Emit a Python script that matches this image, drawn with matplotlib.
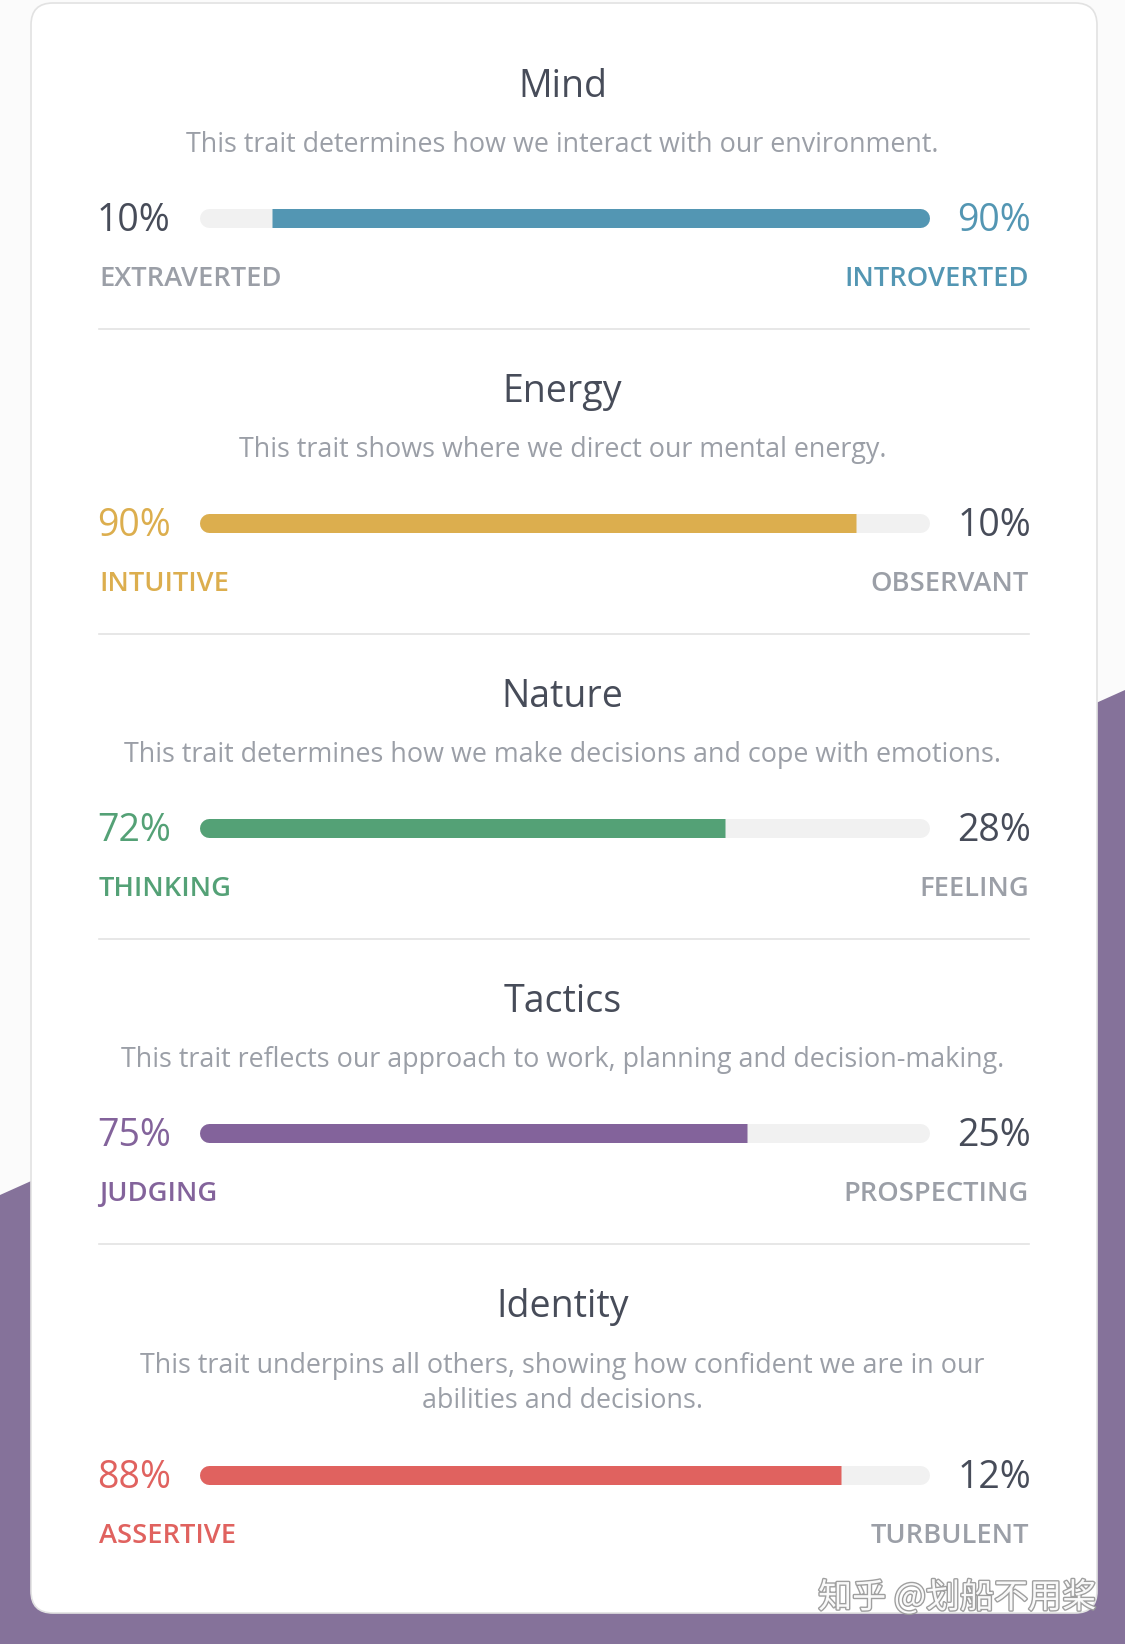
import numpy as np
import matplotlib.pyplot as plt
from matplotlib.patches import FancyBboxPatch, Polygon
import matplotlib.patheffects as pe

## Data
traits = ['Mind', 'Energy', 'Nature', 'Tactics', 'Identity']
descriptions = [
    'This trait determines how we interact with our environment.',
    'This trait shows where we direct our mental energy.',
    'This trait determines how we make decisions and cope with emotions.',
    'This trait reflects our approach to work, planning and decision-making.',
    'This trait underpins all others, showing how confident we are in our\nabilities and decisions.',
]
left_labels = ['EXTRAVERTED', 'INTUITIVE', 'THINKING', 'JUDGING', 'ASSERTIVE']
right_labels = ['INTROVERTED', 'OBSERVANT', 'FEELING', 'PROSPECTING', 'TURBULENT']
left_pct = [10, 90, 72, 75, 88]
right_pct = [90, 10, 28, 25, 12]
colors = ['#5396b3', '#dcae4e', '#54a176', '#83639b', '#e0625f']

## Style
W, H = 1125, 1644
DARK = '#474c59'
GRAY = '#9b9fa7'
TRACK = '#f1f1f1'
PURPLE_BG = '#85729a'
FONT = 'Open Sans'

bar_x0, bar_x1 = 199, 929
bar_h = 19
lw = bar_h * 0.72
r = bar_h / 2
text_l, text_r = 99, 1029

fig = plt.figure(figsize=(W / 100, H / 100), dpi=100)
fig.patch.set_facecolor('#fbfbfb')
ax = fig.add_axes([0, 0, 1, 1])
ax.set_xlim(0, W)
ax.set_ylim(H, 0)
ax.axis('off')

# purple background: diagonal + bottom strip
ax.add_patch(Polygon([[0, 1195], [W, 690], [W, H], [0, H]], closed=True,
                     facecolor=PURPLE_BG, edgecolor='none', zorder=0))
# card
ax.add_patch(FancyBboxPatch((31, 3), 1066, 1610, boxstyle='round,pad=0,rounding_size=22',
                            facecolor='white', edgecolor='#e2e2e2', linewidth=1.2, zorder=1))

y = 84
for i, name in enumerate(traits):
    n_lines = descriptions[i].count('\n') + 1
    ax.text(W / 2, y + 3, name, ha='center', va='center', fontsize=27,
            family=FONT, color=DARK, zorder=3)
    ax.text(W / 2, y + 61 + (n_lines - 1) * 18.5, descriptions[i], ha='center', va='center',
            fontsize=19.4, family=FONT, color=GRAY, linespacing=1.35, zorder=3)
    by = y + 134 + (n_lines - 1) * 37

    # track
    ax.plot([bar_x0 + r, bar_x1 - r], [by, by], color=TRACK, lw=lw,
            solid_capstyle='round', zorder=2)
    # fill
    c = colors[i]
    if left_pct[i] >= right_pct[i]:
        xf = bar_x0 + (bar_x1 - bar_x0) * left_pct[i] / 100
        ax.plot([bar_x0 + r, xf], [by, by], color=c, lw=lw, solid_capstyle='butt', zorder=3)
        ax.plot([bar_x0 + r, bar_x0 + r + 1], [by, by], color=c, lw=lw,
                solid_capstyle='round', zorder=3)
        lc, rc = c, DARK
        llc, rlc = c, GRAY
    else:
        xf = bar_x1 - (bar_x1 - bar_x0) * right_pct[i] / 100
        ax.plot([xf, bar_x1 - r], [by, by], color=c, lw=lw, solid_capstyle='butt', zorder=3)
        ax.plot([bar_x1 - r - 1, bar_x1 - r], [by, by], color=c, lw=lw,
                solid_capstyle='round', zorder=3)
        lc, rc = DARK, c
        llc, rlc = GRAY, c

    ax.text(text_l - 2, by + 3, f'{left_pct[i]}%', ha='left', va='center', fontsize=27,
            family=FONT, color=lc, zorder=3)
    ax.text(text_r + 2, by + 3, f'{right_pct[i]}%', ha='right', va='center', fontsize=27,
            family=FONT, color=rc, zorder=3)
    ax.text(text_l, by + 61, left_labels[i], ha='left', va='center', fontsize=19.6,
            family=FONT, weight='semibold', color=llc, zorder=3)
    ax.text(text_r, by + 61, right_labels[i], ha='right', va='center', fontsize=19.6,
            family=FONT, weight='semibold', color=rlc, zorder=3)

    if i < len(traits) - 1:
        ax.plot([text_l, text_r], [by + 111, by + 111], color='#e3e3e3', lw=1.2, zorder=2)
    y = by + 171

# watermark
ax.text(1096, 1598, '知乎 @划船不用桨', ha='right', va='center', fontsize=24.5,
        family=['Noto Sans CJK SC', 'DejaVu Sans'], color='white', alpha=0.95, zorder=4,
        path_effects=[pe.withStroke(linewidth=2, foreground='#9a9a9a')])

fig.savefig('out.png', dpi=100, facecolor=fig.get_facecolor())
